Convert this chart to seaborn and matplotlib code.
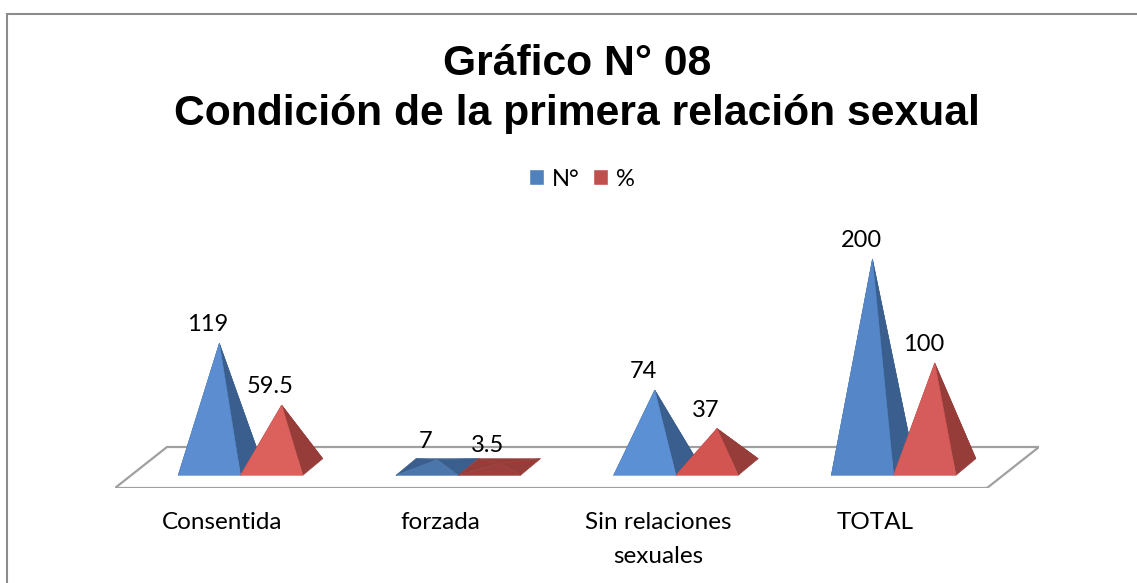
import matplotlib
matplotlib.use("Agg")
import matplotlib.pyplot as plt
import pandas as pd
import numpy as np
import seaborn as sns
from matplotlib.patches import Polygon, Rectangle

categorias = ["Consentida", "forzada", "Sin relaciones\nsexuales", "TOTAL"]
valores_n = [119, 7, 74, 200]
valores_pct = [59.5, 3.5, 37, 100]
etiquetas_n = ["119", "7", "74", "200"]
etiquetas_pct = ["59.5", "3.5", "37", "100"]

# colores de cara frontal por barra (cambian un poco con la luz)
frente_n = ["#5b8dd0", "#4a76ab", "#5c90d4", "#5587c8"]
frente_pct = ["#dc605c", "#9c3f3c", "#d35552", "#d65c5b"]
lado_n = "#3a5f8e"
lado_pct = "#963d3a"

W, H = 1137, 583
PX_X = 217.7   # pixeles por categoria
PX_Y = 1.04    # pixeles por unidad
PROF_X = 20 / PX_X
PROF_Y = 8.0

sns.set_theme(style="white")
plt.rcParams["font.family"] = ["Lato", "DejaVu Sans"]

df = pd.DataFrame({
    "categoria": categorias * 2,
    "valor": valores_n + valores_pct,
    "serie": ["N°"] * 4 + ["%"] * 4,
})

fig = plt.figure(figsize=(W / 100, H / 100), dpi=100)
# la caja de ejes coincide con el piso en x
ax = fig.add_axes([115 / W, (H - 488) / H, 924 / W, 268 / H])
ax.patch.set_alpha(0)

sns.barplot(data=df, x="categoria", y="valor", hue="serie", width=2 * 62.3 / PX_X,
            palette=["#4f81bd", "#c0504d"], saturation=1, ax=ax)

ax.set_xlim((115 - 240.5) / PX_X, (1039 - 240.5) / PX_X)
ax.set_ylim((467 - 488) / PX_Y, (467 - 220) / PX_Y)

# piso
piso = Polygon([(0, 0), (872 / 924, 0), (1, 41 / 268), (52 / 924, 41 / 268)], closed=True,
               transform=ax.transAxes, fill=False, edgecolor="#a0a0a0", lw=1.6, zorder=1)
ax.add_patch(piso)

# las barras de seaborn dan la posicion, encima van las piramides
series = [(ax.containers[0], frente_n, lado_n, etiquetas_n),
          (ax.containers[1], frente_pct, lado_pct, etiquetas_pct)]
z = 3
for cont, frentes, lado, etiquetas in series:
    for rect, frente, txt in zip(cont, frentes, etiquetas):
        x0 = rect.get_x()
        x1 = x0 + rect.get_width()
        v = rect.get_height()
        rect.set_visible(False)
        xc = (x0 + x1) / 2
        apice = (xc + PROF_X / 2, v)
        fl, fr = (x0, -PROF_Y), (x1, -PROF_Y)
        bl, br = (x0 + PROF_X, PROF_Y), (x1 + PROF_X, PROF_Y)
        # atras y costados
        ax.add_patch(Polygon([bl, br, apice], color=lado, lw=0.4, zorder=z))
        ax.add_patch(Polygon([fl, bl, apice], color=lado, lw=0.4, zorder=z))
        ax.add_patch(Polygon([fr, br, apice], color=lado, lw=0.4, zorder=z))
        ax.add_patch(Polygon([fl, fr, apice], color=frente, lw=0.4, zorder=z + 0.5))
        ax.annotate(txt, (xc, v), xytext=(-1, 13.2), textcoords="offset points",
                    ha="center", va="center", fontsize=17, color="black", zorder=10,
                    annotation_clip=False)

ax.set_xticks(np.arange(4) - 18 / PX_X)
ax.set_xticklabels(categorias, fontsize=17.5, color="black", linespacing=1.78)
ax.tick_params(axis="x", length=0, pad=17)
ax.set_yticks([])
ax.set_xlabel("")
ax.set_ylabel("")
sns.despine(ax=ax, left=True, bottom=True)

sns.move_legend(ax, "center", bbox_to_anchor=(582 / W, (H - 179) / H),
                bbox_transform=fig.transFigure, ncol=2, frameon=False, title=None,
                fontsize=17, handlelength=0.64, handleheight=0.64, handletextpad=0.34,
                columnspacing=0.55, labelcolor="black")

fig.text(577 / W, (H - 89) / H, "Gráfico N° 08\nCondición de la primera relación sexual",
         ha="center", va="center", fontsize=30.7, fontweight="bold", color="black",
         family="Liberation Sans", linespacing=1.3)

# marco del grafico, solo se ve arriba y a la izquierda
fig.add_artist(Rectangle((6.5 / W, -0.1), 1.2, (H - 14.5) / H + 0.1, transform=fig.transFigure,
                         fill=False, edgecolor="#8c8c8c", lw=1.5))

fig.savefig("out.png", dpi=100)
